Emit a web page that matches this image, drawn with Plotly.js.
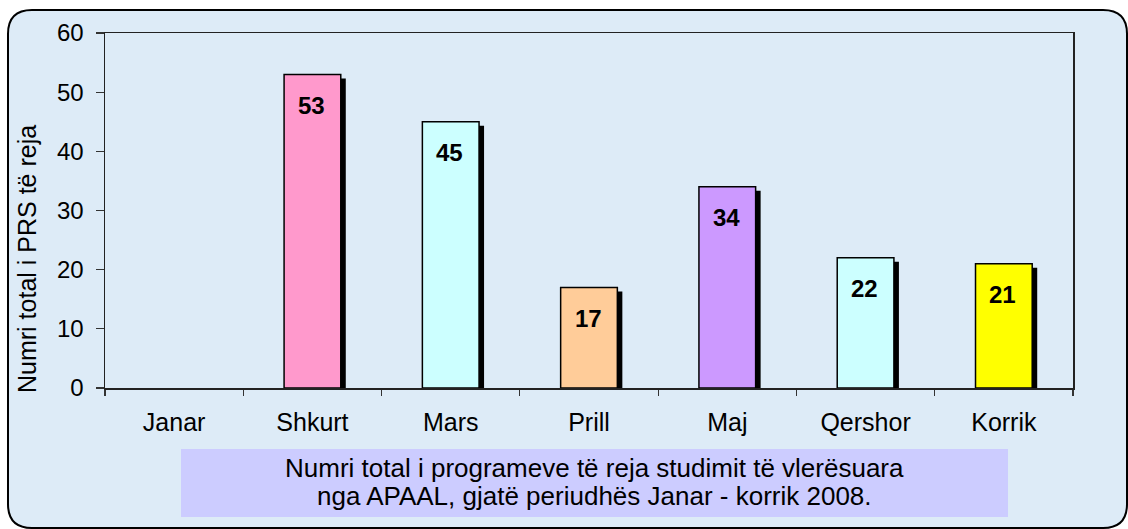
<!DOCTYPE html>
<html><head><meta charset="utf-8">
<script src="https://cdn.plot.ly/plotly-3.0.1.min.js"></script>
<style>html,body{margin:0;padding:0;background:#fff;overflow:hidden}</style>
</head><body>
<div id="chart" style="width:1128px;height:529px"></div>
<script>
// ---- data ----
const months = ['Janar', 'Shkurt', 'Mars', 'Prill', 'Maj', 'Qershor', 'Korrik'];
const programs = [0, 53, 45, 17, 34, 22, 21];
const barColors = ['#FF99CC', '#FF99CC', '#CCFFFF', '#FFCC99', '#CC99FF', '#CCFFFF', '#FFFF00'];
const yTickVals = [0, 10, 20, 30, 40, 50, 60];
const yTitleText = 'Numri total i PRS të reja';
const captionLines = ['Numri total i programeve të reja studimit të vlerësuara',
                      'nga APAAL, gjatë periudhës Janar - korrik 2008.'];

// ---- geometry (pixels) ----
const W = 1128, H = 529;
const M = {l: 105, r: 55, t: 33, b: 141};
const PW = W - M.l - M.r, PH = H - M.t - M.b;
const px = x => (x - M.l) / PW;          // pixel -> paper x
const py = y => (H - M.b - y) / PH;      // pixel -> paper y
const yMax = 60;
const barW = 0.41;
const catPx = PW / months.length;
const shadowDx = 5 / catPx;
const shadowDy = 4 / (PH / yMax);
const FONT = 'Arial, "Liberation Sans", sans-serif';

// rounded frame path
function roundRect(x0, y0, x1, y1, r) {
  const X = v => px(v).toFixed(5), Y = v => py(v).toFixed(5);
  return `M${X(x0 + r)},${Y(y0)} L${X(x1 - r)},${Y(y0)} Q${X(x1)},${Y(y0)} ${X(x1)},${Y(y0 + r)} ` +
         `L${X(x1)},${Y(y1 - r)} Q${X(x1)},${Y(y1)} ${X(x1 - r)},${Y(y1)} ` +
         `L${X(x0 + r)},${Y(y1)} Q${X(x0)},${Y(y1)} ${X(x0)},${Y(y1 - r)} ` +
         `L${X(x0)},${Y(y0 + r)} Q${X(x0)},${Y(y0)} ${X(x0 + r)},${Y(y0)} Z`;
}

const shadow = {
  type: 'bar', x: months, y: programs,
  base: programs.map(() => -shadowDy),
  width: barW, offset: -barW / 2 + shadowDx,
  marker: {color: '#000000', line: {width: 0}},
  hoverinfo: 'skip', showlegend: false
};
const bars = {
  type: 'bar', x: months, y: programs,
  width: barW, offset: -barW / 2,
  marker: {color: barColors, line: {color: '#000000', width: programs.map(v => v > 0 ? 1.5 : 0)}},
  hoverinfo: 'skip', showlegend: false
};

const labelAnn = [];
programs.forEach((v, i) => {
  if (v > 0) labelAnn.push({
    x: months[i], y: v, xref: 'x', yref: 'y', yshift: -31, xshift: -1,
    text: '<b>' + v + '</b>', showarrow: false,
    font: {family: FONT, size: 24, color: '#000'}
  });
});

const captionAnn = captionLines.map((t, i) => ({
  xref: 'paper', yref: 'paper', x: px(594.5), y: py(468 + i * 28),
  xanchor: 'center', yanchor: 'middle', align: 'center',
  text: t, showarrow: false,
  font: {family: FONT, size: 26, color: '#000'}
}));

const yTitleAnn = {
  xref: 'paper', yref: 'paper', x: px(27), y: py(259),
  xanchor: 'center', yanchor: 'middle', textangle: -90,
  text: yTitleText, showarrow: false,
  font: {family: FONT, size: 25, color: '#000'}
};

const layout = {
  width: W, height: H,
  margin: M,
  paper_bgcolor: '#ffffff',
  plot_bgcolor: 'rgba(0,0,0,0)',
  barmode: 'overlay',
  font: {family: FONT, color: '#000'},
  xaxis: {
    type: 'category', range: [-0.5, months.length - 0.5],
    tickson: 'boundaries', ticks: 'outside', ticklen: 6, tickwidth: 1.2, tickcolor: '#333',
    showline: true, linecolor: '#222', linewidth: 1.5, mirror: true,
    showgrid: false, zeroline: false, fixedrange: true,
    tickfont: {family: FONT, size: 25, color: '#000'},
    ticklabelstandoff: 11
  },
  yaxis: {
    range: [0, yMax], tickvals: yTickVals, ticks: 'outside', ticklen: 8, tickwidth: 1.2, tickcolor: '#333',
    showline: true, linecolor: '#222', linewidth: 1.5, mirror: true,
    showgrid: false, zeroline: false, fixedrange: true,
    tickfont: {family: FONT, size: 24, color: '#000'},
    ticklabelstandoff: 7
  },
  shapes: [
    {type: 'path', xref: 'paper', yref: 'paper', layer: 'below',
     path: roundRect(8, 10, 1127, 528, 24),
     fillcolor: '#DDEBF7', line: {color: '#000', width: 2}},
    {type: 'rect', xref: 'paper', yref: 'paper', layer: 'below',
     x0: px(181), x1: px(1008), y0: py(517), y1: py(449),
     fillcolor: '#CCCCFF', line: {width: 0}}
  ],
  annotations: labelAnn.concat(captionAnn, [yTitleAnn])
};

Plotly.newPlot('chart', [shadow, bars], layout, {displayModeBar: false, staticPlot: true});
</script>
</body></html>
